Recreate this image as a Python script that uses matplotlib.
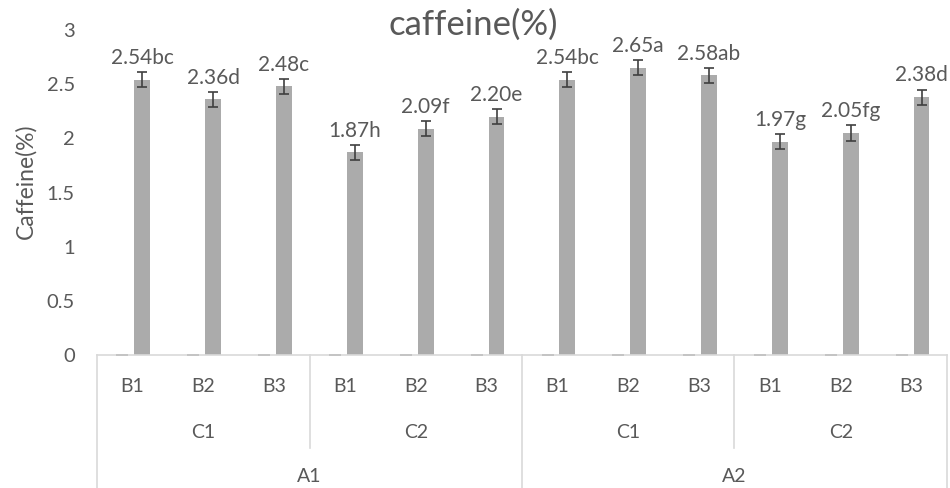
import matplotlib
matplotlib.use("Agg")
import matplotlib.pyplot as plt
import matplotlib.transforms as mtransforms

plt.rcParams['font.family'] = ['Lato', 'DejaVu Sans']

# caffeine content per treatment combination (A x C x B)
b_labels = ['B1', 'B2', 'B3'] * 4
c_labels = ['C1', 'C2', 'C1', 'C2']
a_labels = ['A1', 'A2']
caffeine = [2.54, 2.36, 2.48, 1.87, 2.09, 2.20, 2.54, 2.65, 2.58, 1.97, 2.05, 2.38]
caffeine_err = [0.07, 0.07, 0.07, 0.07, 0.07, 0.07, 0.07, 0.07, 0.07, 0.07, 0.07, 0.07]
letters = ['bc', 'd', 'c', 'h', 'f', 'e', 'bc', 'a', 'ab', 'g', 'fg', 'd']
empty_series = [0, 0, 0, 0, 0, 0, 0, 0, 0, 0, 0, 0]

text_col = '#595959'
line_col = '#d9d9d9'
bar_col = '#ababab'
fs = 14.5

fig = plt.figure(figsize=(9.5, 4.88), dpi=100)
ax = fig.add_axes([97 / 950, 133 / 488, 850 / 950, 325 / 488])

n = len(caffeine)
x = list(range(n))
off = 0.14
w = 0.225

# empty first series only shows its zero-length error caps
ax.errorbar([i - off for i in x], empty_series, yerr=empty_series, fmt='none',
            ecolor='#595959', elinewidth=1, capsize=4.3, capthick=1.2)

ax.bar([i + off for i in x], caffeine, width=w, color=bar_col, zorder=2)
ax.errorbar([i + off for i in x], caffeine, yerr=caffeine_err, fmt='none',
            ecolor='#404040', elinewidth=1.2, capsize=3.3, capthick=1.2, zorder=3)

for i in x:
    ax.annotate(f"{caffeine[i]:.2f}{letters[i]}",
                (i + off, caffeine[i] + caffeine_err[i]),
                xytext=(0, 3), textcoords='offset points',
                ha='center', va='bottom', fontsize=15, color=text_col)

ax.set_xlim(-0.5, n - 0.5)
ax.set_ylim(0, 3)
ax.set_yticks([0, 0.5, 1, 1.5, 2, 2.5, 3])
ax.set_yticklabels(['0', '0.5', '1', '1.5', '2', '2.5', '3'])
ax.tick_params(axis='y', length=0, labelsize=fs, labelcolor=text_col, pad=16)
ax.set_xticks([])
for s in ax.spines.values():
    s.set_visible(False)

fig.text(26 / 950, 1 - 181 / 488, 'Caffeine(%)', rotation=90, ha='center',
         va='center', fontsize=16.5, color=text_col)

# multi-level category axis, y in pixels below the plot area
px = 1 / 325
trans = mtransforms.blended_transform_factory(ax.transData, ax.transAxes)

def hier_line(xs, ys):
    ax.plot(xs, ys, color=line_col, lw=1.2, transform=trans, clip_on=False)

hier_line([-0.5, n - 0.5], [0, 0])
for xb in [-0.5, 5.5, 11.5]:
    hier_line([xb, xb], [0, -133 * px])
for xb in [2.5, 8.5]:
    hier_line([xb, xb], [0, -93 * px])

for i in x:
    ax.text(i, -32 * px, b_labels[i], transform=trans, ha='center', va='center',
            fontsize=14, color=text_col)
for j, lab in enumerate(c_labels):
    ax.text(3 * j + 1, -78 * px, lab, transform=trans, ha='center', va='center',
            fontsize=14, color=text_col)
for j, lab in enumerate(a_labels):
    ax.text(6 * j + 2.5, -122 * px, lab, transform=trans, ha='center', va='center',
            fontsize=14, color=text_col)

fig.text(473 / 950, 1 - 25 / 488, 'caffeine(%)', ha='center', va='center',
         fontsize=25, color=text_col)

fig.savefig('out.png', dpi=100)
